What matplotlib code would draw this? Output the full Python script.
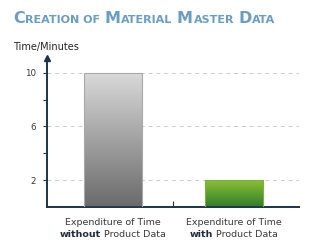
import numpy as np
import matplotlib.pyplot as plt
from matplotlib.colors import LinearSegmentedColormap

# data
line1 = ["Expenditure of Time", "Expenditure of Time"]
bold_words = ["without", "with"]
line2_rest = ["Product Data", "Product Data"]
minutes = [10, 2]
major_ticks = [2, 6, 10]
minor_ticks = [4, 8]
title_parts = [("C", True), ("REATION OF", False), ("M", True), ("ATERIAL", False),
               ("M", True), ("ASTER", False), ("D", True), ("ATA", False)]

navy = "#1d3446"
text_col = "#3a3a3a"

fig = plt.figure(figsize=(3.19, 2.49), dpi=100)
W, H = 319, 249
ax = fig.add_axes([47 / W, (H - 207) / H, (299 - 47) / W, (207 - 58) / H])

x = np.arange(len(minutes))
bars = ax.bar(x, minutes, width=0.48, color="none", linewidth=0.8, zorder=3)

# gradient fill of the bars
cmaps = [LinearSegmentedColormap.from_list("g", ["#6a6a6a", "#dadada"]),
         LinearSegmentedColormap.from_list("gr", ["#2f7d2c", "#8cbf35"])]
grad = np.linspace(0, 1, 256).reshape(-1, 1)
for b, cm, ec in zip(bars, cmaps, ["#a8a8a8", "#7fb13a"]):
    x0 = b.get_x()
    im = ax.imshow(grad, extent=[x0, x0 + b.get_width(), 0, b.get_height()],
                   origin="lower", aspect="auto", cmap=cm, zorder=2)
    im.set_clip_path(b)
    b.set_edgecolor(ec)

ax.set_xlim(-0.545, 1.537)
ax.set_ylim(0, 11.1)

for s in ["top", "right"]:
    ax.spines[s].set_visible(False)
for s in ["left", "bottom"]:
    ax.spines[s].set_color(navy)
    ax.spines[s].set_linewidth(1.4)

ax.set_yticks(major_ticks)
ax.set_yticks(minor_ticks, minor=True)
ax.tick_params(axis="y", which="both", length=3, width=0.8, color=navy,
               labelsize=6.3, labelcolor=text_col, pad=5)
ax.set_xticks([0.5])
ax.set_xticklabels([""])
ax.tick_params(axis="x", direction="in", length=4, width=0.8, color=navy)

ax.yaxis.grid(True, linestyle=(0, (4, 4)), color="#cccccc", linewidth=0.7)
ax.set_axisbelow(True)

# arrow on y axis
ax.plot([0], [1], marker="^", markersize=5, color=navy, transform=ax.transAxes,
        clip_on=False, zorder=5)

fig.text(13 / W, (H - 50) / H, "Time/Minutes", fontsize=7, color="#222222")

fig.canvas.draw()
r = fig.canvas.get_renderer()

# category labels, second line has a bold word
for xi, l1, bw, rest in zip(x, line1, bold_words, line2_rest):
    cx = ax.transData.transform((xi, 0))[0]
    fig.text(cx / W, (H - 225) / H, l1, ha="center", va="baseline",
             fontsize=6.8, color=text_col)
    tb = fig.text(0, (H - 237) / H, bw, ha="left", va="baseline",
                  fontsize=6.8, fontweight="bold", color="#1f2f3c")
    tr = fig.text(0, (H - 237) / H, rest, ha="left", va="baseline",
                  fontsize=6.8, color=text_col)
    wb = tb.get_window_extent(r).width
    wr = tr.get_window_extent(r).width
    gap = 3
    start = cx - (wb + gap + wr) / 2
    tb.set_x(start / W)
    tr.set_x((start + wb + gap) / W)

# small-caps title
xpos = 13
for txt, big in title_parts:
    t = fig.text(xpos / W, (H - 23) / H, txt, fontsize=11.5 if big else 8.0,
                 fontweight="bold", color="#6b9dc2", va="baseline", ha="left")
    xpos += t.get_window_extent(r).width + (0.5 if big else 4.5)

fig.savefig("out.png", dpi=100)
